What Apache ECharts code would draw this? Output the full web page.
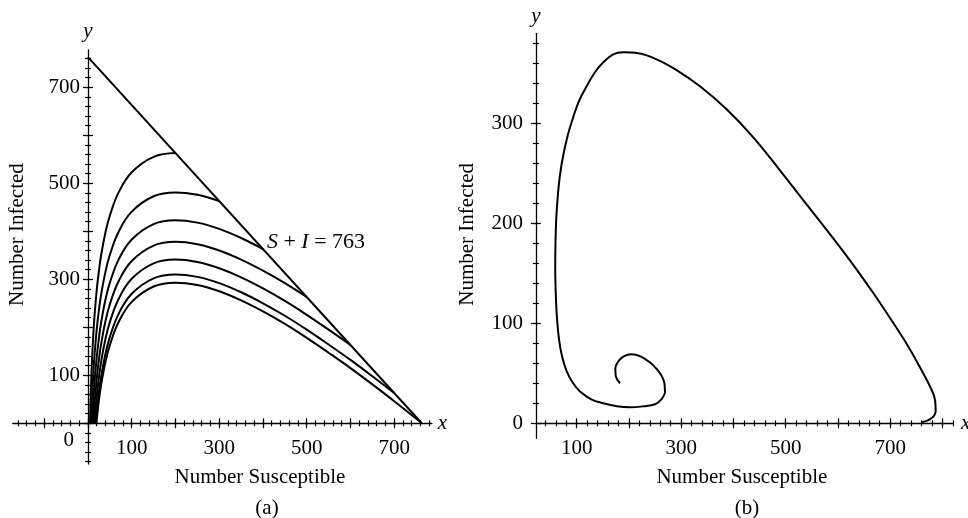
<!DOCTYPE html>
<html>
<head>
<meta charset="utf-8">
<script src="https://cdn.jsdelivr.net/npm/echarts@6/dist/echarts.min.js"></script>
<style>
  html, body { margin: 0; background: #fff; }
  #chart { width: 968px; height: 518px; }
</style>
</head>
<body>
<div id="chart"></div>
<script>
// (a) trajectories in the S-I plane, each one starts on the line S + I = 763
const lineA = [[0, 763], [763, 0]];
const curveA1 = [[4.7, 0], [5, 13], [6, 49], [7, 79], [8, 105], [10, 148], [12, 183], [15, 225], [20, 278], [25, 318], [30, 350], [40, 398], [50, 433], [70, 481], [100, 523], [150, 555], [200, 563]];
const curveA2 = [[7.1, 0], [8, 23], [10, 66], [12, 101], [15, 143], [20, 196], [25, 236], [30, 268], [40, 316], [50, 351], [70, 399], [100, 441], [150, 473], [200, 481], [250, 476], [300, 463]];
const curveA3 = [[9.6, 0], [10, 8], [12, 43], [15, 85], [20, 138], [25, 178], [30, 210], [40, 258], [50, 293], [70, 341], [100, 383], [150, 415], [200, 423], [250, 418], [300, 405], [350, 386], [400, 363]];
const curveA4 = [[12.2, 0], [15, 40], [20, 93], [25, 133], [30, 165], [40, 213], [50, 248], [70, 296], [100, 338], [150, 370], [200, 378], [250, 373], [300, 360], [350, 341], [400, 318], [450, 292], [500, 263]];
const curveA5 = [[14.8, 0], [17, 26], [20, 56], [25, 96], [30, 128], [40, 176], [50, 211], [70, 259], [100, 301], [150, 333], [200, 341], [250, 336], [300, 323], [350, 304], [400, 281], [450, 255], [500, 226], [550, 195], [600, 163]];
const curveA6 = [[17.5, 0], [20, 25], [25, 65], [30, 97], [40, 145], [50, 180], [70, 228], [100, 270], [150, 302], [200, 310], [250, 305], [300, 292], [350, 273], [400, 250], [450, 224], [500, 195], [550, 164], [600, 132], [650, 98], [700, 63]];
const curveA7 = [[19.2, 0], [20, 8], [25, 48], [30, 80], [40, 128], [50, 163], [70, 211], [100, 253], [150, 285], [200, 293], [250, 288], [300, 275], [350, 256], [400, 233], [450, 207], [500, 178], [550, 147], [600, 115], [650, 81], [700, 46], [762, 1]];

// (b) one trajectory spiralling in
const spiralB = [[761, 1], [779, 5], [787, 12], [786, 23], [777, 36], [760, 53], [732, 79], [700, 105], [668, 130], [630, 158], [588, 187], [540, 219], [489, 253], [438, 286], [387, 314], [336, 337], [292, 353], [253, 364], [218, 370], [189, 371], [170, 369], [151, 361], [135, 351], [119, 337], [105, 323], [94, 307], [83, 288], [74, 267], [68, 248], [64, 228], [61, 205], [59.5, 180], [59, 155], [60, 130], [62, 108], [66, 85], [72, 67], [81, 52], [92, 41], [106, 32], [128, 24], [151, 20], [177, 17], [202, 16], [228, 17], [250, 19], [262, 24], [269, 31], [268, 40], [262, 48], [252, 55], [240, 61], [222, 67], [205, 69], [190, 67], [180, 62], [174, 55], [175, 47], [183, 40]];

// tick labels
const xLabelsA = [100, 300, 500, 700];
const yLabelsA = [0, 100, 300, 500, 700];
const xLabelsB = [100, 300, 500, 700];
const yLabelsB = [0, 100, 200, 300];

const serif = 'Liberation Serif';
const txt = { fontFamily: serif, fontSize: 21, color: '#000' };

function range(a, b, step) {
    const out = [];
    for (let v = a; v <= b; v += step) out.push(v);
    return out;
}

// four axes on top of each other that only draw the line and ticks crossing it
// (short every 20, long every 100); the first also carries the x / y name
function lineAxes(dim, grid, o) {
    const base = {
        type: 'value',
        gridIndex: grid,
        min: o.min,
        max: o.max,
        position: dim === 'x' ? 'bottom' : 'left',
        splitLine: { show: false },
        axisLine: { show: false, onZero: o.onZero, lineStyle: { color: '#000', width: 1.3 } },
        axisLabel: { show: false },
        nameMoveOverlap: false,
        silent: true,
    };
    const tick = (vals, len, inside) => ({
        show: true, customValues: vals, length: len, inside: inside,
        lineStyle: { color: '#000', width: 1.2 },
    });
    return [
        Object.assign({}, base, {
            axisLine: Object.assign({}, base.axisLine, { show: true }),
            axisTick: tick(o.minor, 3, false),
            name: dim,
            nameLocation: 'end',
            nameGap: o.endGap,
            nameTextStyle: Object.assign({}, txt, { fontStyle: 'italic' }),
        }),
        Object.assign({}, base, { axisTick: tick(o.minor, 3, true) }),
        Object.assign({}, base, { axisTick: tick(o.major, 5, false) }),
        Object.assign({}, base, { axisTick: tick(o.major, 5, true) }),
    ];
}

// axis on the positive part only: numbers and the axis title
function labelAxis(dim, grid, o) {
    return {
        type: 'value',
        gridIndex: grid,
        min: o.min,
        max: o.max,
        position: dim === 'x' ? 'bottom' : 'left',
        splitLine: { show: false },
        axisLine: { show: false, onZero: false },
        axisTick: { show: false },
        axisLabel: Object.assign({ show: true, customValues: o.labels, margin: o.margin, formatter: o.formatter, rich: o.rich }, txt),
        name: o.title,
        nameLocation: 'middle',
        nameGap: o.gap,
        nameMoveOverlap: false,
        nameTextStyle: Object.assign({}, txt, { padding: o.pad }),
        silent: true,
    };
}

const xAxes = [].concat(
    lineAxes('x', 0, { min: -172, max: 786, onZero: true, minor: range(-160, 780, 20), major: range(-100, 700, 100), endGap: 6 }),
    [labelAxis('x', 1, { min: 0, max: 786, labels: xLabelsA, margin: 15, title: 'Number Susceptible', gap: 44, pad: 0 })],
    lineAxes('x', 2, { min: 22, max: 820, onZero: true, minor: range(40, 820, 20), major: range(100, 800, 100), endGap: 8 }),
    [labelAxis('x', 3, { min: 22, max: 820, labels: xLabelsB, margin: 15, title: 'Number Susceptible', gap: 44, pad: [0, 5, 0, 0] })]
);

const yAxes = [].concat(
    lineAxes('y', 0, { min: -85, max: 778, onZero: true, minor: range(-80, 760, 20), major: range(0, 700, 100), endGap: 8 }),
    [labelAxis('y', 1, {
        min: 0, max: 778, labels: yLabelsA, margin: 8,
        formatter: v => (v === 0 ? '{z|0}' : String(v)),
        rich: { z: Object.assign({}, txt, { padding: [34, 6, 0, 0] }) },
        title: 'Number Infected', gap: 60, pad: [0, 0, 0, 4],
    })],
    lineAxes('y', 2, { min: -15, max: 390, onZero: false, minor: range(20, 380, 20), major: range(0, 300, 100), endGap: 6 }),
    [labelAxis('y', 3, { min: 0, max: 390, labels: yLabelsB, margin: 13, title: 'Number Infected', gap: 58, pad: [0, 12, 0, 0] })]
);

const curveStyle = { color: '#000', width: 2 };
const curvesA = [curveA1, curveA2, curveA3, curveA4, curveA5, curveA6, curveA7];

const series = [
    {
        type: 'line', xAxisIndex: 0, yAxisIndex: 0, data: lineA,
        showSymbol: false, silent: true, lineStyle: curveStyle,
        markPoint: {
            silent: true,
            symbolSize: 0,
            data: [{ coord: [409, 378] }],
            label: Object.assign({
                show: true, position: 'right', distance: 0,
                formatter: '{i|S} + {i|I} = 763',
                rich: { i: Object.assign({}, txt, { fontSize: 22, fontStyle: 'italic' }) },
            }, txt, { fontSize: 22 }),
        },
    },
].concat(curvesA.map(c => ({
    type: 'line', xAxisIndex: 0, yAxisIndex: 0, data: c,
    smooth: 0.4, showSymbol: false, silent: true, lineStyle: curveStyle,
}))).concat([{
    type: 'line', xAxisIndex: 5, yAxisIndex: 5, data: spiralB,
    smooth: 0.4, showSymbol: false, silent: true, lineStyle: curveStyle,
}]);

const chart = echarts.init(document.getElementById('chart'));
chart.setOption({
    backgroundColor: '#fff',
    animation: false,
    grid: [
        // (a): whole axis extent, then the positive quadrant for numbers and titles
        { left: 12.75, top: 49.86, width: 419.1, height: 414.2, containLabel: false, outerBoundsMode: 'none' },
        { left: 88, top: 49.86, width: 343.9, height: 373.44, containLabel: false, outerBoundsMode: 'none' },
        // (b)
        { left: 535.9, top: 33.3, width: 417.0, height: 405, containLabel: false, outerBoundsMode: 'none' },
        { left: 535.9, top: 33.3, width: 417.0, height: 390, containLabel: false, outerBoundsMode: 'none' },
    ],
    xAxis: xAxes,
    yAxis: yAxes,
    series: series,
    graphic: [
        { type: 'text', x: 267, y: 508, style: { text: '(a)', font: '21px "Liberation Serif"', fill: '#000', align: 'center', verticalAlign: 'middle' } },
        { type: 'text', x: 747, y: 508, style: { text: '(b)', font: '21px "Liberation Serif"', fill: '#000', align: 'center', verticalAlign: 'middle' } },
    ],
});
</script>
</body>
</html>
